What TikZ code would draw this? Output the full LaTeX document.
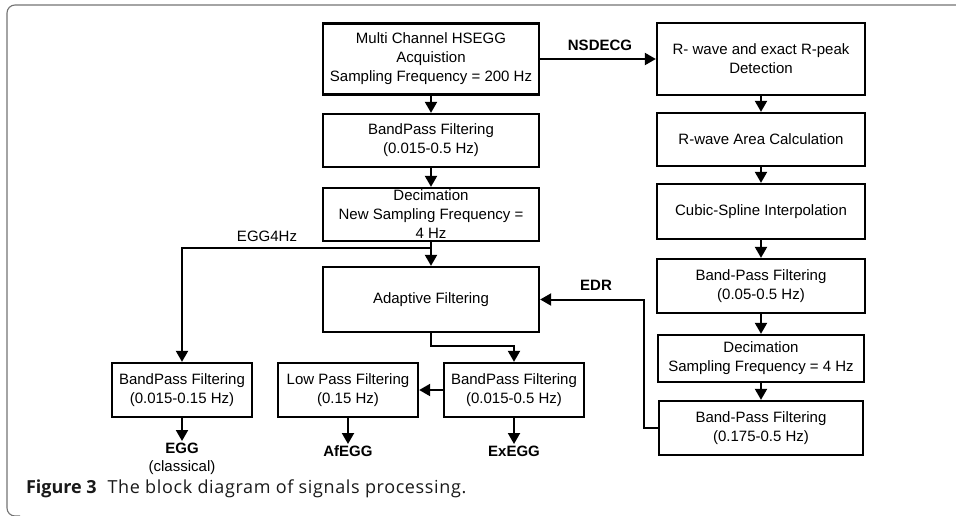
\documentclass[tikz,border=0pt]{standalone}
\usepackage{fontspec}
\setmainfont{Liberation Sans}
\newfontfamily\capfont{Open Sans}
\newfontfamily\capwide[LetterSpace=3.5]{Open Sans}
\usepackage{tikz}
\usetikzlibrary{arrows.meta}

\begin{document}
\begin{tikzpicture}[x=1pt,y=-1pt,->,>={Triangle[length=11pt,width=12pt]},line width=2pt,blocknode/.style={rectangle,draw,line width=2.3pt,inner sep=2pt,align=center,font=\fontsize{15}{19}\selectfont},signode/.style={inner sep=1pt,align=center,font=\fontsize{15}{18}\selectfont\bfseries},tagnode/.style={inner sep=1pt,font=\fontsize{15}{18}\selectfont}]

\useasboundingbox (0,0) rectangle (956,515);
\draw[-,line width=1.1pt,black!55,rounded corners=8pt] (956,5) -- (7,5) -- (7,516) -- (20,516);

% left column
\node [blocknode,minimum width=216pt,minimum height=71pt] (acq) at (431, 59) {Multi Channel HSEGG\\Acquistion\\Sampling Frequency = 200 Hz};
\node [blocknode,minimum width=216pt,minimum height=53pt] (bp1) at (431, 140.5) {BandPass Filtering\\(0.015-0.5 Hz)};
\node [blocknode,minimum width=216pt,minimum height=53pt] (dec1) at (431, 214.5) {Decimation\\New Sampling Frequency =\\4 Hz};
\node [blocknode,minimum width=216pt,minimum height=65pt] (adf) at (431, 299.5) {Adaptive Filtering};
\coordinate (j) at (431, 248);

% right column
\node [blocknode,minimum width=208pt,minimum height=72pt] (rpk) at (761, 59) {R- wave and exact R-peak\\Detection};
\node [blocknode,minimum width=208pt,minimum height=53pt] (rarea) at (761, 139.5) {R-wave Area Calculation};
\node [blocknode,minimum width=208pt,minimum height=55pt] (spl) at (761, 211.5) {Cubic-Spline Interpolation};
\node [blocknode,minimum width=208pt,minimum height=54pt] (bp2) at (761, 286) {Band-Pass Filtering\\(0.05-0.5 Hz)};
\node [blocknode,minimum width=206pt,minimum height=47pt] (dec2) at (761, 358.5) {Decimation\\Sampling Frequency = 4 Hz};
\node [blocknode,minimum width=204pt,minimum height=54pt] (bp3) at (761, 428) {Band-Pass Filtering\\(0.175-0.5 Hz)};

% bottom row
\node [blocknode,minimum width=140pt,minimum height=54pt] (bp5) at (182, 390) {BandPass Filtering\\(0.015-0.15 Hz)};
\node [blocknode,minimum width=140pt,minimum height=54pt] (lpf) at (348, 390) {Low Pass Filtering\\(0.15 Hz)};
\node [blocknode,minimum width=140pt,minimum height=54pt] (bp4) at (514, 390) {BandPass Filtering\\(0.015-0.5 Hz)};

\node [signode,anchor=north] (egg) at (182, 441) {EGG\\{\mdseries(classical)}};
\node [signode,anchor=north] (afegg) at (348, 444) {AfEGG};
\node [signode,anchor=north] (exegg) at (514, 444) {ExEGG};

\node [signode] (nsd) at (600, 45) {NSDECG};
\node [signode] (edr) at (596, 285) {EDR};
\node [tagnode] (e4) at (267, 236) {EGG4Hz};

\node [anchor=base west,inner sep=0pt,text=black!90,font=\fontsize{18}{21}\selectfont] (cap) at (25, 493) {{\capfont\bfseries Figure 3}\hspace{0.6em}{\capwide The block diagram of signals processing.}};

\draw (acq) to (bp1);
\draw (bp1) to (dec1);
\draw (dec1) to (adf);
\draw (j) -| (bp5);
\draw (adf.south) -- ++(0,13) -| (bp4.north);
\draw (bp4) to (lpf);
\draw (bp5) to (egg.north);
\draw (lpf) to (afegg);
\draw (bp4) to (exegg);

\draw (acq) to (rpk);
\draw (rpk) to (rarea);
\draw (rarea) to (spl);
\draw (spl) to (bp2);
\draw (bp2) to (dec2);
\draw (dec2) to (bp3);
\draw (bp3.west) -- ++(-14,0) |- (adf.east);
\end{tikzpicture}
\end{document}
